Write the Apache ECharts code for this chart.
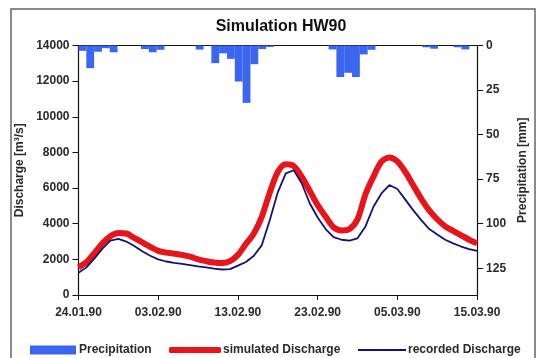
<!DOCTYPE html>
<html>
<head>
<meta charset="utf-8">
<script src="https://cdn.jsdelivr.net/npm/echarts@6/dist/echarts.min.js"></script>
<style>
  html, body { margin: 0; padding: 0; background: #fff; }
  #chart { width: 537px; height: 358px; }
</style>
</head>
<body>
<div id="chart"></div>
<script>
// Daily dates of the flood event HW90 (24.01.1990 – 15.03.1990)
const days = [
  '24.01.90','25.01.90','26.01.90','27.01.90','28.01.90','29.01.90','30.01.90','31.01.90',
  '01.02.90','02.02.90','03.02.90','04.02.90','05.02.90','06.02.90','07.02.90','08.02.90',
  '09.02.90','10.02.90','11.02.90','12.02.90','13.02.90','14.02.90','15.02.90','16.02.90',
  '17.02.90','18.02.90','19.02.90','20.02.90','21.02.90','22.02.90','23.02.90','24.02.90',
  '25.02.90','26.02.90','27.02.90','28.02.90','01.03.90','02.03.90','03.03.90','04.03.90',
  '05.03.90','06.03.90','07.03.90','08.03.90','09.03.90','10.03.90','11.03.90','12.03.90',
  '13.03.90','14.03.90','15.03.90'
];

// Daily precipitation [mm]
const precipitation = [
  3, 12.7, 3.5, 1.5, 3.8, 0, 0, 0, 2, 3.8,
  2.4, 0, 0, 0, 0, 2.3, 0, 9.9, 4.4, 7.5,
  20.2, 32.2, 10.5, 2, 0.8, 0, 0, 0, 0, 0,
  0, 0, 2.2, 17.7, 15.3, 17.7, 5, 2.4, 0, 0,
  0, 0, 0, 0, 1, 1.8, 0, 0, 1, 2.2,
  0
];

// Simulated discharge [m³/s]
const simulated = [
  1550, 1850, 2350, 2900, 3300, 3480, 3450, 3200, 2950, 2700,
  2480, 2380, 2320, 2250, 2150, 2000, 1900, 1820, 1790, 1900,
  2250, 2870, 3450, 4400, 5750, 6900, 7330, 7230, 6640, 5850,
  5050, 4400, 3800, 3620, 3700, 4250, 5650, 6640, 7480, 7720,
  7500, 6900, 6150, 5400, 4750, 4250, 3850, 3600, 3350, 3100,
  2900
];

// Recorded discharge [m³/s]
const recorded = [
  1250, 1550, 2050, 2600, 3050, 3150, 3000, 2750, 2450, 2200,
  2000, 1880, 1800, 1750, 1680, 1610, 1550, 1480, 1430, 1450,
  1650, 1850, 2200, 2800, 4210, 5760, 6820, 7000, 6270, 5150,
  4350, 3700, 3250, 3100, 3050, 3180, 3850, 4950, 5700, 6170,
  5950, 5350, 4750, 4200, 3700, 3400, 3100, 2900, 2720, 2580,
  2470
];

const FONT = '"Liberation Sans", Arial, sans-serif';
const BLUE = '#3a66f0';
const RED = '#e8141c';
const NAVY = '#14146e';

const labelStyle = { fontFamily: FONT, fontWeight: 'bold', fontSize: 12, color: '#2a2a2a' };
const plain = v => String(v);

const chart = echarts.init(document.getElementById('chart'), null, { renderer: 'canvas' });

chart.setOption({
  backgroundColor: '#ffffff',
  animation: false,
  title: {
    text: 'Simulation HW90',
    left: 276,
    top: 14,
    textAlign: 'center',
    textStyle: { fontFamily: FONT, fontWeight: 'bold', fontSize: 16, color: '#111' }
  },
  graphic: [{
    type: 'rect',
    shape: { x: 11, y: 9, width: 524, height: 380 },
    style: { fill: 'none', stroke: '#666', lineWidth: 1.5 },
    silent: true,
    z: -1
  }],
  legend: [
    {
      data: ['Precipitation'],
      left: 30, top: 344, padding: 0,
      icon: 'rect', itemWidth: 46, itemHeight: 9, itemGap: 0,
      textStyle: Object.assign({}, labelStyle, { padding: [0, 0, 0, -2] })
    },
    {
      data: ['simulated Discharge'],
      left: 169, top: 344, padding: 0,
      icon: 'roundRect', itemWidth: 52, itemHeight: 6, itemGap: 0,
      textStyle: Object.assign({}, labelStyle, { padding: [0, 0, 0, -3] })
    },
    {
      data: ['recorded Discharge'],
      left: 358, top: 344, padding: 0,
      icon: 'rect', itemWidth: 48, itemHeight: 2, itemGap: 0,
      textStyle: Object.assign({}, labelStyle, { padding: [0, 0, 0, -3] })
    }
  ],
  grid: { left: 78.5, right: 57.5, top: 45.5, bottom: 63 },
  xAxis: [
    {
      type: 'category',
      data: days,
      boundaryGap: false,
      position: 'bottom',
      axisLine: { lineStyle: { color: '#111', width: 1.2 } },
      axisTick: { interval: 9, length: 5, lineStyle: { color: '#111' } },
      axisLabel: Object.assign({ interval: 9, margin: 12 }, labelStyle),
      splitLine: { show: false }
    },
    {
      type: 'category',
      data: days,
      boundaryGap: true,
      position: 'top',
      axisLine: { lineStyle: { color: '#111', width: 1.2 } },
      axisTick: { show: false },
      axisLabel: { show: false },
      splitLine: { show: false }
    }
  ],
  yAxis: [
    {
      type: 'value',
      min: 0, max: 14000, interval: 2000,
      name: 'Discharge [m³/s]',
      nameLocation: 'middle',
      nameGap: 47,
      nameTextStyle: labelStyle,
      axisLine: { show: true, lineStyle: { color: '#111', width: 1.2 } },
      axisTick: { show: true, length: 6, lineStyle: { color: '#111' } },
      axisLabel: Object.assign({ margin: 9, formatter: plain }, labelStyle),
      splitLine: { show: false }
    },
    {
      type: 'value',
      inverse: true,
      min: 0, max: 140, interval: 25,
      position: 'right',
      name: 'Precipitation [mm]',
      nameLocation: 'middle',
      nameGap: 36,
      nameTextStyle: labelStyle,
      axisLine: { show: true, lineStyle: { color: '#111', width: 1.2 } },
      axisTick: { show: true, length: 6, lineStyle: { color: '#111' } },
      axisLabel: Object.assign({ margin: 9, showMaxLabel: false, formatter: plain }, labelStyle),
      splitLine: { show: false }
    }
  ],
  series: [
    {
      name: 'Precipitation',
      type: 'bar',
      xAxisIndex: 1,
      yAxisIndex: 1,
      data: precipitation,
      barWidth: '100%',
      itemStyle: { color: BLUE },
      z: 1
    },
    {
      name: 'simulated Discharge',
      type: 'line',
      xAxisIndex: 0,
      yAxisIndex: 0,
      data: simulated,
      symbol: 'none',
      smooth: 0.3,
      lineStyle: { color: RED, width: 6 },
      itemStyle: { color: RED },
      z: 3
    },
    {
      name: 'recorded Discharge',
      type: 'line',
      xAxisIndex: 0,
      yAxisIndex: 0,
      data: recorded,
      symbol: 'none',
      lineStyle: { color: NAVY, width: 1.8 },
      itemStyle: { color: NAVY },
      z: 4
    }
  ]
});
</script>
</body>
</html>
